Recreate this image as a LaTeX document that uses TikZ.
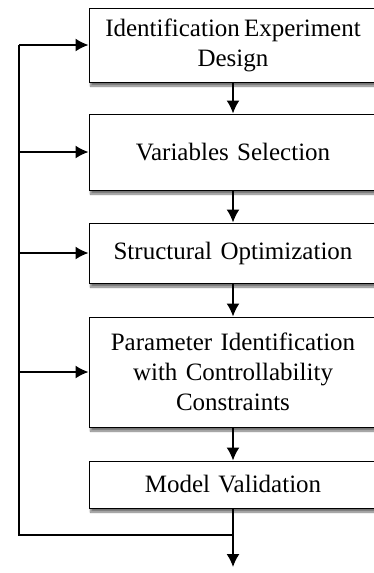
\documentclass[tikz,border=0pt]{standalone}
\usepackage{fontspec}
\setmainfont{Liberation Serif}[WordSpace={0.85}]
\usetikzlibrary{arrows.meta,shadows.blur}

\tikzset{
  stagebox/.style={draw, line width=1pt, fill=white, minimum width=288pt,
    text width=280pt, align=center, inner sep=0pt,
    font=\fontsize{25}{30}\selectfont,
    blur shadow={shadow xshift=1.5pt, shadow yshift=-4pt, shadow blur steps=6, shadow opacity=55}},
  flow/.style={line width=1.6pt, -{Latex[length=13pt,width=13pt]}},
}

\begin{document}
\begin{tikzpicture}[x=1pt,y=-1pt]
		\useasboundingbox (0,0) rectangle (374,573);
		% stages, top to bottom
		\node[stagebox, minimum height=74pt] (ide) at (233,45) {Identification\,Experiment\\Design};
		\node[stagebox, minimum height=76pt] (var) at (233,152) {Variables Selection};
		\node[stagebox, minimum height=60pt] (str) at (233,253) {Structural Optimization};
		\node[stagebox, minimum height=110pt] (par) at (233,372) {Parameter Identification\\with Controllability\\Constraints};
		\node[stagebox, minimum height=47pt] (val) at (233,484.5) {Model Validation};
		\coordinate (fb) at (19,535); % edit here for the feedback line
		\coordinate (out) at (233,567);
		% main flow
		\draw[flow] (ide) -- (var);
		\draw[flow] (var) -- (str);
		\draw[flow] (str) -- (par);
		\draw[flow] (par) -- (val);
		\draw[flow] (val) -- (out);
		% feedback to every stage
		\draw[line width=1.6pt] (val.south |- fb) -- (fb) -- (fb |- ide.west);
		\foreach \s in {ide,var,str,par}
		\draw[flow] (fb |- \s.west) -- (\s.west);
	\end{tikzpicture}
\end{document}
